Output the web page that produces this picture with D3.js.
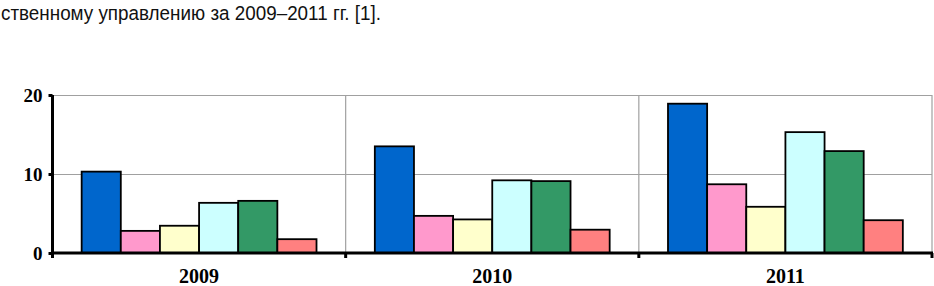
<!DOCTYPE html>
<html><head><meta charset="utf-8">
<script src="https://cdn.jsdelivr.net/npm/d3@7"></script>
<style>body{margin:0;background:#fff}svg{display:block}</style>
</head><body>
<script>
const years = ["2009", "2010", "2011"];
const seriesNames = ["s1", "s2", "s3", "s4", "s5", "s6"];
const s1 = [10.3, 13.5, 18.9];
const s2 = [2.8, 4.7, 8.7];
const s3 = [3.45, 4.25, 5.85];
const s4 = [6.35, 9.2, 15.3];
const s5 = [6.6, 9.1, 12.9];
const s6 = [1.75, 2.95, 4.15];
const seriesValues = [s1, s2, s3, s4, s5, s6];
const colors = ["#0066CC", "#FF99CC", "#FFFFCC", "#CCFFFF", "#339966", "#FF8080"];
const yTicks = [0, 10, 20];
const title = "ственному управлению за 2009–2011 гг. [1].";

const W = 934, H = 286;
const svg = d3.select("body").append("svg").attr("width", W).attr("height", H);

svg.append("text").attr("x", 1).attr("y", 19.5)
  .attr("font-family", "Liberation Sans, Arial, sans-serif").attr("font-size", 20.5)
  .attr("textLength", 380).attr("lengthAdjust", "spacingAndGlyphs")
  .attr("fill", "#111").text(title);

const pLeft = 52.5, pRight = 932, pTop = 95, pBottom = 253;
const x = d3.scaleBand().domain(years).range([pLeft, pRight]).paddingInner(0).paddingOuter(0);
const xs = d3.scaleBand().domain(seriesNames).range([0, x.bandwidth()]).paddingInner(0).paddingOuter(0.745);
const y = d3.scaleLinear().domain([0, 20]).range([pBottom, pTop]);

// gridlines
const grid = svg.append("g").attr("stroke", "#a0a0a0").attr("stroke-width", 1.2);
grid.selectAll("line.h").data(yTicks.filter(d => d > 0)).join("line")
  .attr("x1", pLeft).attr("x2", pRight).attr("y1", d => Math.round(y(d)) + 0.5).attr("y2", d => Math.round(y(d)) + 0.5);
grid.selectAll("line.v").data(years).join("line")
  .attr("x1", d => x(d) + x.bandwidth()).attr("x2", d => x(d) + x.bandwidth())
  .attr("y1", pTop).attr("y2", pBottom);

// bars
const g = svg.append("g");
seriesValues.forEach((vals, i) => {
  g.append("g").selectAll("rect").data(vals).join("rect")
    .attr("x", (d, j) => x(years[j]) + xs(seriesNames[i]))
    .attr("width", xs.bandwidth())
    .attr("y", d => y(d))
    .attr("height", d => y(0) - y(d))
    .attr("fill", colors[i])
    .attr("stroke", "#000").attr("stroke-width", 1.8);
});

// y axis
const yAxis = d3.axisLeft(y).tickValues(yTicks).tickSize(4).tickPadding(6);
const ya = svg.append("g").attr("transform", `translate(${pLeft},0)`).call(yAxis);
ya.select(".domain").attr("stroke-width", 3).attr("d", `M0,${pTop}V${pBottom}`);
ya.selectAll(".tick line").attr("stroke-width", 3);
ya.selectAll(".tick text").attr("font-family", "Liberation Serif, Times New Roman, serif")
  .attr("font-weight", "bold").attr("font-size", 19).attr("fill", "#000");

// x axis
const xAxisG = svg.append("g").attr("transform", `translate(0,${pBottom})`);
xAxisG.append("line").attr("x1", pLeft - 1.5).attr("x2", pRight + 1).attr("y1", 0).attr("y2", 0)
  .attr("stroke", "#000").attr("stroke-width", 3);
const bounds = [years[0]].map(d => x(d)).concat(years.map(d => x(d) + x.bandwidth()));
xAxisG.selectAll("line.t").data(bounds).join("line")
  .attr("x1", d => d).attr("x2", d => d).attr("y1", 0).attr("y2", 5)
  .attr("stroke", "#000").attr("stroke-width", 3);
xAxisG.selectAll("text").data(years).join("text")
  .attr("x", d => x(d) + x.bandwidth() / 2).attr("y", 30)
  .attr("text-anchor", "middle")
  .attr("font-family", "Liberation Serif, Times New Roman, serif")
  .attr("font-weight", "bold").attr("font-size", 20).text(d => d);
</script>
</body></html>
